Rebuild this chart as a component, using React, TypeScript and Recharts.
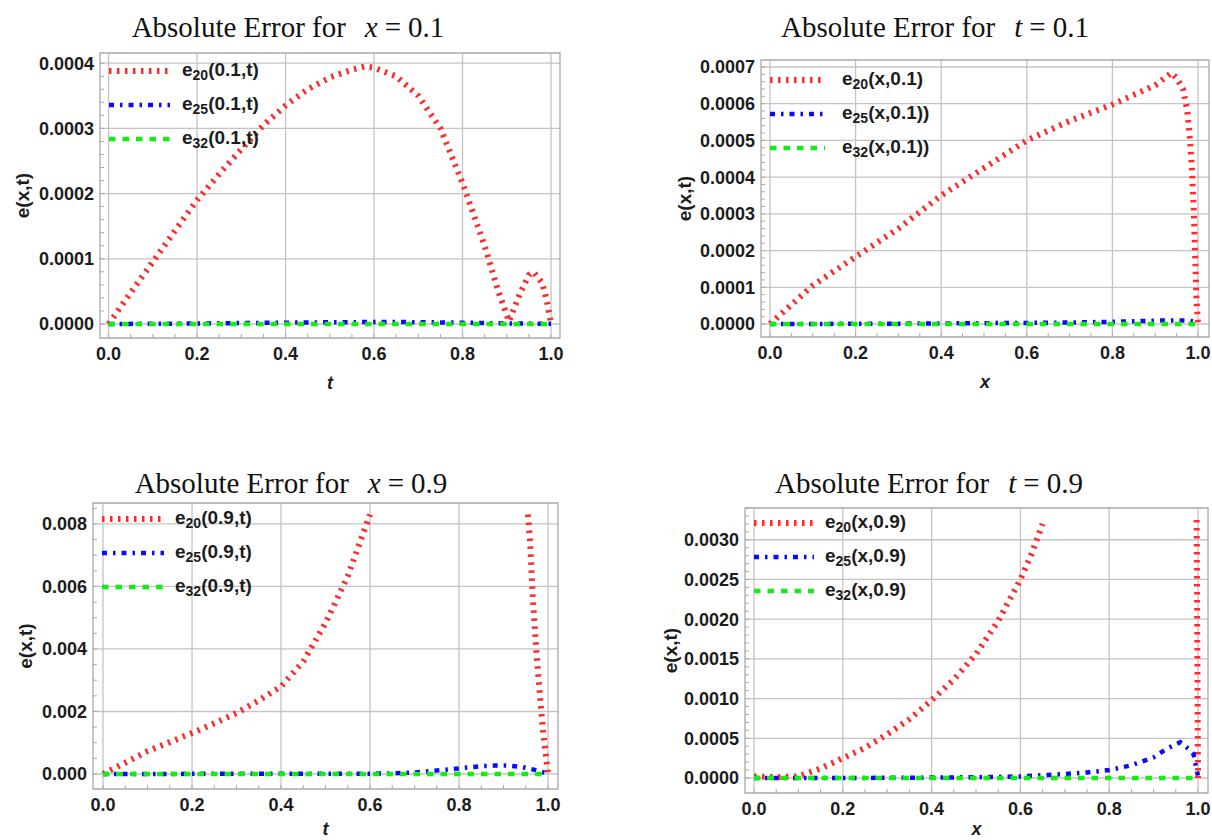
import React from "react";
import { LineChart, Line, XAxis, YAxis, CartesianGrid, Legend, Label, ReferenceArea } from "recharts";

// ---- panel 1: x = 0.1, error vs t ----
const p1RedT = [0, 0.05, 0.1, 0.15, 0.2, 0.25, 0.3, 0.35, 0.4, 0.45, 0.5, 0.55, 0.58, 0.6, 0.65, 0.7, 0.75, 0.8, 0.85, 0.88, 0.905, 0.93, 0.95, 0.96, 0.98, 0.99, 1.0];
const p1Red = [0, 0.000048, 0.000095, 0.000143, 0.00019, 0.00023, 0.000268, 0.000305, 0.000335, 0.00036, 0.000378, 0.00039, 0.000395, 0.000393, 0.00038, 0.00035, 0.0003, 0.000216, 0.00012, 0.000052, 0.000004, 0.000047, 0.000075, 0.00008, 0.000063, 0.000037, 0];
const p1BlueT = [0, 0.1, 0.2, 0.3, 0.4, 0.5, 0.6, 0.7, 0.8, 0.9, 1.0];
const p1Blue = [0, 0.0000003, 0.0000008, 0.0000014, 0.000002, 0.0000026, 0.000003, 0.0000028, 0.000002, 0.0000008, 0.0000003];
const p1GreenT = [0, 1];
const p1Green = [0, 0];

// ---- panel 2: t = 0.1, error vs x ----
const p2RedX = [0, 0.1, 0.2, 0.3, 0.4, 0.5, 0.6, 0.7, 0.8, 0.9, 0.938, 0.95, 0.965, 0.975, 0.98, 0.985, 0.99, 0.993, 0.996, 1.0];
const p2Red = [0, 0.000105, 0.000183, 0.00026, 0.00035, 0.000425, 0.0005, 0.000553, 0.000598, 0.00065, 0.000684, 0.00067, 0.00064, 0.00058, 0.00052, 0.00044, 0.00032, 0.0002, 0.00008, 0];
const p2BlueX = [0, 0.2, 0.4, 0.6, 0.7, 0.8, 0.9, 0.95, 0.98, 1.0];
const p2Blue = [0, 0.0000005, 0.0000015, 0.000003, 0.000004, 0.000006, 0.000009, 0.00001, 0.000009, 0.000005];
const p2GreenX = [0, 1];
const p2Green = [0, 0];

// ---- panel 3: x = 0.9, error vs t ----
const p3RedT = [0, 0.05, 0.1, 0.15, 0.2, 0.25, 0.3, 0.35, 0.4, 0.45, 0.5, 0.55, 0.6, 0.8, 0.955, 0.96, 0.966, 0.975, 0.988, 1.0];
const p3Red = [0, 0.00036, 0.00073, 0.00102, 0.00131, 0.00162, 0.00195, 0.00235, 0.0028, 0.0036, 0.00483, 0.00633, 0.0083, null, 0.0083, 0.0074, 0.0056, 0.0037, 0.0015, 0];
const p3BlueT = [0, 0.1, 0.2, 0.3, 0.4, 0.5, 0.6, 0.65, 0.7, 0.75, 0.8, 0.85, 0.88, 0.91, 0.94, 0.97, 1.0];
const p3Blue = [0, 0, 0.000005, 0.000005, 0.000005, 0.000005, 0.00001, 0.00002, 0.00005, 0.00011, 0.00018, 0.00025, 0.00027, 0.00027, 0.00023, 0.00013, 0.00001];
const p3GreenT = [0, 1];
const p3Green = [0, 0];

// ---- panel 4: t = 0.9, error vs x ----
const p4RedX = [0, 0.05, 0.1, 0.15, 0.2, 0.25, 0.3, 0.35, 0.4, 0.45, 0.5, 0.55, 0.6, 0.625, 0.65, 0.8, 0.997, 1.0];
const p4Red = [0.00002, 0.00001, 0.00002, 0.00012, 0.00025, 0.00038, 0.00055, 0.00074, 0.00098, 0.00124, 0.00156, 0.00198, 0.0025, 0.00282, 0.0032, null, 0.00325, 0];
const p4BlueX = [0, 0.1, 0.2, 0.3, 0.4, 0.5, 0.6, 0.65, 0.7, 0.75, 0.8, 0.85, 0.9, 0.93, 0.96, 0.98, 0.99, 0.995, 1.0];
const p4Blue = [0, 0, 0, 0.000002, 0.000005, 0.00001, 0.00002, 0.000035, 0.00005, 0.00007, 0.0001, 0.00016, 0.00026, 0.00037, 0.00045, 0.00036, 0.0003, 0.00015, 0.00003];
const p4GreenX = [0, 1];
const p4Green = [0, 0];

const xMajor = [0, 0.2, 0.4, 0.6, 0.8, 1.0];
const xMajorLabels = ["0.0", "0.2", "0.4", "0.6", "0.8", "1.0"];
const p1YMajor = [0, 0.0001, 0.0002, 0.0003, 0.0004];
const p1YLabels = ["0.0000", "0.0001", "0.0002", "0.0003", "0.0004"];
const p2YMajor = [0, 0.0001, 0.0002, 0.0003, 0.0004, 0.0005, 0.0006, 0.0007];
const p2YLabels = ["0.0000", "0.0001", "0.0002", "0.0003", "0.0004", "0.0005", "0.0006", "0.0007"];
const p3YMajor = [0, 0.002, 0.004, 0.006, 0.008];
const p3YLabels = ["0.000", "0.002", "0.004", "0.006", "0.008"];
const p4YMajor = [0, 0.0005, 0.001, 0.0015, 0.002, 0.0025, 0.003];
const p4YLabels = ["0.0000", "0.0005", "0.0010", "0.0015", "0.0020", "0.0025", "0.0030"];

const zip = (xs: number[], ys: (number | null)[]) => xs.map((x, i) => ({ x, y: ys[i] }));

const minorTicks = (lo: number, hi: number, step: number) => {
  const out: number[] = [];
  for (let v = Math.ceil(lo / step) * step; v <= hi + 1e-12; v += step) out.push(+v.toFixed(8));
  return out;
};

const RED = { stroke: "#ff2a2a", strokeWidth: 6, strokeDasharray: "2.5 5.5" };
const BLUE = { stroke: "#0a0aff", strokeWidth: 4.5, strokeDasharray: "5 6 2.5 6" };
const GREEN = { stroke: "#14ec14", strokeWidth: 4.5, strokeDasharray: "6.5 7" };

const FRAME = "#a9a9a9";
const GRID = "#c4c4c4";
const SANS = "'Liberation Sans', Arial, sans-serif";
const tickFont = { fontFamily: SANS, fontWeight: 700, fontSize: 18, fill: "#1c1c1c" };

const near = (arr: number[], v: number) => arr.findIndex((m) => Math.abs(m - v) < 1e-9);

type Panel = {
  box: { left: number; top: number; width: number; height: number };
  margin: { top: number; right: number; left: number; bottom: number };
  yW: number;
  xH: number;
  xDomain: [number, number];
  yDomain: [number, number];
  yMajor: number[];
  yLabels: string[];
  yMinor: number;
  xName: string;
  yLabDX: number;
  xLabDY: number;
  title: { cx: number; cy: number; v: string; val: string };
  legend: { left: number; top: number; sampleW: number; gap: number; args: string[] };
  red: { x: number; y: number | null }[];
  blue: { x: number; y: number | null }[];
  green: { x: number; y: number | null }[];
};

const panels: Panel[] = [
  {
    box: { left: 0, top: 40, width: 600, height: 370 },
    margin: { top: 13, right: 40, left: 0, bottom: 0 },
    yW: 100, xH: 72,
    xDomain: [-0.0194, 1.0203], yDomain: [-0.0000215, 0.0004156],
    yMajor: p1YMajor, yLabels: p1YLabels, yMinor: 0.00002,
    xName: "t", yLabDX: 78, xLabDY: 45,
    title: { cx: 288, cy: 27, v: "x", val: "0.1" },
    legend: { left: 109, top: 14, sampleW: 61, gap: 12, args: ["(0.1,t)", "(0.1,t)", "(0.1,t)"] },
    red: zip(p1RedT, p1Red), blue: zip(p1BlueT, p1Blue), green: zip(p1GreenT, p1Green),
  },
  {
    box: { left: 600, top: 40, width: 612, height: 370 },
    margin: { top: 20, right: 3, left: 0, bottom: 0 },
    yW: 161, xH: 73,
    xDomain: [-0.021, 1.0257], yDomain: [-0.0000354, 0.000719],
    yMajor: p2YMajor, yLabels: p2YLabels, yMinor: 0.00002,
    xName: "x", yLabDX: 77, xLabDY: 45,
    title: { cx: 935, cy: 27, v: "t", val: "0.1" },
    legend: { left: 170, top: 23, sampleW: 55, gap: 17, args: ["(x,0.1)", "(x,0.1))", "(x,0.1))"] },
    red: zip(p2RedX, p2Red), blue: zip(p2BlueX, p2Blue), green: zip(p2GreenX, p2Green),
  },
  {
    box: { left: 0, top: 490, width: 600, height: 350 },
    margin: { top: 13, right: 42, left: 0, bottom: 0 },
    yW: 93, xH: 51,
    xDomain: [-0.0225, 1.0225], yDomain: [-0.00048, 0.00867],
    yMajor: p3YMajor, yLabels: p3YLabels, yMinor: 0.0005,
    xName: "t", yLabDX: 68, xLabDY: 40,
    title: { cx: 291, cy: 483, v: "x", val: "0.9" },
    legend: { left: 102, top: 12, sampleW: 62, gap: 11, args: ["(0.9,t)", "(0.9,t)", "(0.9,t)"] },
    red: zip(p3RedT, p3Red), blue: zip(p3BlueT, p3Blue), green: zip(p3GreenT, p3Green),
  },
  {
    box: { left: 600, top: 490, width: 612, height: 350 },
    margin: { top: 18, right: 4, left: 0, bottom: 0 },
    yW: 145, xH: 47,
    xDomain: [-0.0203, 1.0225], yDomain: [-0.000189, 0.0034],
    yMajor: p4YMajor, yLabels: p4YLabels, yMinor: 0.0001,
    xName: "x", yLabDX: 75, xLabDY: 36,
    title: { cx: 929, cy: 483, v: "t", val: "0.9" },
    legend: { left: 154, top: 16, sampleW: 60, gap: 11, args: ["(x,0.9)", "(x,0.9)", "(x,0.9)"] },
    red: zip(p4RedX, p4Red), blue: zip(p4BlueX, p4Blue), green: zip(p4GreenX, p4Green),
  },
];

const subs = ["20", "25", "32"];
const styles = [RED, BLUE, GREEN];

function PanelLegend({ p }: { p: Panel }) {
  return (
    <div style={{ fontFamily: SANS, fontWeight: 700, fontSize: 19, color: "#1c1c1c" }}>
      {styles.map((s, i) => (
        <div key={i} style={{ display: "flex", alignItems: "center", height: 34 }}>
          <svg width={p.legend.sampleW} height={10}>
            <line x1={0} x2={p.legend.sampleW} y1={5} y2={5} stroke={s.stroke} strokeWidth={s.strokeWidth} strokeDasharray={s.strokeDasharray} />
          </svg>
          <span style={{ marginLeft: p.legend.gap, whiteSpace: "nowrap" }}>
            e<sub style={{ fontSize: 14, verticalAlign: "-4px" }}>{subs[i]}</sub>
            {p.legend.args[i]}
          </span>
        </div>
      ))}
    </div>
  );
}

const noLabel = () => <g />;

function ErrorPanel({ p }: { p: Panel }) {
  const xTicks = minorTicks(0, 1, 0.05);
  const yTicks = minorTicks(0, p.yDomain[1], p.yMinor);
  const xTick = (props: any) => {
    const k = near(xMajor, props.payload.value);
    if (k < 0) return <g />;
    return (
      <text x={props.x} y={props.y} dy="0.72em" textAnchor="middle" style={tickFont}>
        {xMajorLabels[k]}
      </text>
    );
  };
  const yTick = (props: any) => {
    const k = near(p.yMajor, props.payload.value);
    if (k < 0) return <g />;
    return (
      <text x={props.x} y={props.y} dy="0.36em" textAnchor="end" style={tickFont}>
        {p.yLabels[k]}
      </text>
    );
  };
  return (
    <div style={{ position: "absolute", left: p.box.left, top: p.box.top }}>
      <LineChart width={p.box.width} height={p.box.height} margin={p.margin}>
        <CartesianGrid
          stroke={GRID} strokeWidth={1.3} fill="none"
          verticalValues={xMajor} horizontalValues={p.yMajor}
        />
        <ReferenceArea
          x1={p.xDomain[0]} x2={p.xDomain[1]} y1={p.yDomain[0]} y2={p.yDomain[1]}
          fill="none" fillOpacity={0} stroke={FRAME} strokeWidth={1.3} ifOverflow="visible"
        />
        <XAxis
          dataKey="x" type="number" domain={p.xDomain} allowDataOverflow ticks={xTicks} interval={0}
          height={p.xH} tick={xTick} tickSize={-4} tickMargin={13}
          axisLine={false} tickLine={{ stroke: FRAME }}
        >
          <Label
            content={(lp: any) => (
              <text x={lp.viewBox.x + lp.viewBox.width / 2} y={lp.viewBox.y + p.xLabDY} dy="0.35em" textAnchor="middle"
                style={{ fontFamily: SANS, fontWeight: 700, fontStyle: "italic", fontSize: 18, fill: "#1c1c1c" }}>
                {p.xName}
              </text>
            )}
          />
        </XAxis>
        <XAxis
          xAxisId="top" orientation="top" dataKey="x" type="number" domain={p.xDomain} allowDataOverflow
          ticks={xTicks} interval={0} height={0} tick={noLabel} tickSize={-4}
          axisLine={false} tickLine={{ stroke: FRAME }}
        />
        <YAxis
          type="number" domain={p.yDomain} allowDataOverflow ticks={yTicks} interval={0}
          width={p.yW} tick={yTick} tickSize={-4} tickMargin={10}
          axisLine={false} tickLine={{ stroke: FRAME }}
        >
          <Label
            content={(lp: any) => {
              const cx = lp.viewBox.x + lp.viewBox.width - p.yLabDX;
              const cy = lp.viewBox.y + lp.viewBox.height / 2;
              return (
                <text x={cx} y={cy} dy="0.35em" textAnchor="middle" transform={`rotate(-90 ${cx} ${cy})`}
                  style={{ fontFamily: SANS, fontWeight: 700, fontSize: 19, fill: "#1c1c1c" }}>
                  e(x,t)
                </text>
              );
            }}
          />
        </YAxis>
        <YAxis
          yAxisId="right" orientation="right" type="number" domain={p.yDomain} allowDataOverflow
          ticks={yTicks} interval={0} width={0} tick={noLabel} tickSize={-4}
          axisLine={false} tickLine={{ stroke: FRAME }}
        />
        <Legend
          layout="vertical" align="center" verticalAlign="middle"
          wrapperStyle={{ left: p.legend.left, top: p.legend.top, width: "auto", height: "auto" }}
          content={() => <PanelLegend p={p} />}
        />
        <Line data={p.red} dataKey="y" type="linear" dot={false} connectNulls={false} isAnimationActive={false}
          stroke={RED.stroke} strokeWidth={RED.strokeWidth} strokeDasharray={RED.strokeDasharray} />
        <Line data={p.blue} dataKey="y" type="linear" dot={false} isAnimationActive={false}
          stroke={BLUE.stroke} strokeWidth={BLUE.strokeWidth} strokeDasharray={BLUE.strokeDasharray} />
        <Line data={p.green} dataKey="y" type="linear" dot={false} isAnimationActive={false}
          stroke={GREEN.stroke} strokeWidth={GREEN.strokeWidth} strokeDasharray={GREEN.strokeDasharray} />
      </LineChart>
    </div>
  );
}

function Title({ p }: { p: Panel }) {
  return (
    <div
      style={{
        position: "absolute", left: p.title.cx - 250, top: p.title.cy - 18, width: 500, height: 36,
        textAlign: "center", fontFamily: "'Liberation Serif', 'Times New Roman', serif", fontSize: 29,
        lineHeight: "36px", color: "#111", whiteSpace: "nowrap",
      }}
    >
      Absolute Error for
      <i style={{ marginLeft: 19 }}>{p.title.v}</i>
      <span style={{ margin: "0 7px" }}>=</span>
      {p.title.val}
    </div>
  );
}

export default function App() {
  return (
    <div style={{ position: "fixed", left: 0, top: 0, width: 1212, height: 840, background: "#fff", overflow: "hidden" }}>
      {panels.map((p, i) => (
        <React.Fragment key={i}>
          <Title p={p} />
          <ErrorPanel p={p} />
        </React.Fragment>
      ))}
    </div>
  );
}
